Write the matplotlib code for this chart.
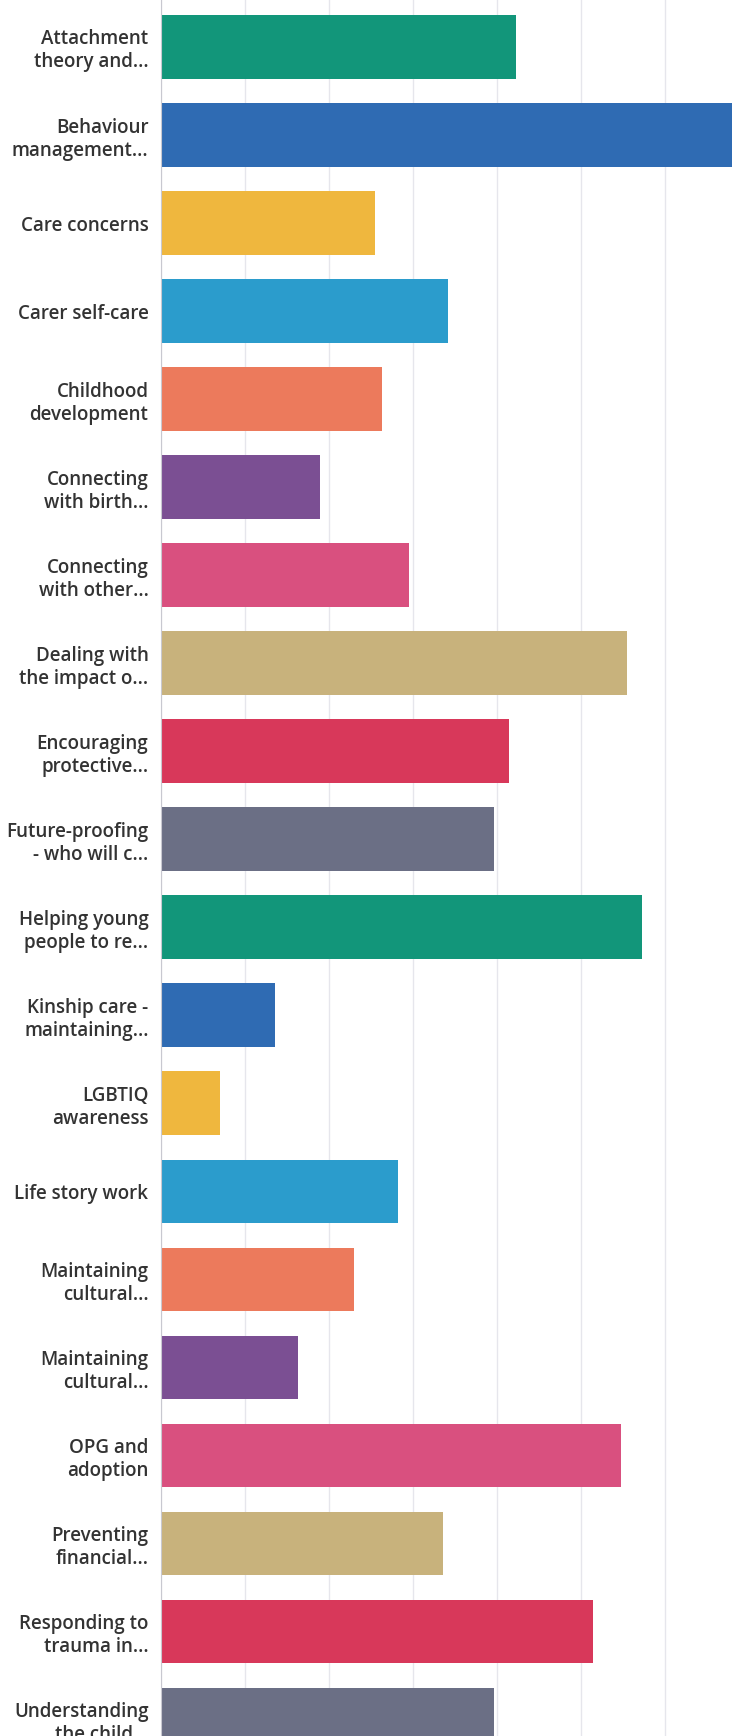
import matplotlib.pyplot as plt
from matplotlib.ticker import MultipleLocator

labels = ["Attachment\ntheory and...", "Behaviour\nmanagement...", "Care concerns",
          "Carer self-care", "Childhood\ndevelopment", "Connecting\nwith birth...",
          "Connecting\nwith other...", "Dealing with\nthe impact o...", "Encouraging\nprotective...",
          "Future-proofing\n- who will c...", "Helping young\npeople to re...",
          "Kinship care -\nmaintaining...", "LGBTIQ\nawareness", "Life story work",
          "Maintaining\ncultural...", "Maintaining\ncultural...", "OPG and\nadoption",
          "Preventing\nfinancial...", "Responding to\ntrauma in...", "Understanding\nthe child..."]
values = [42.2, 68.0, 25.5, 34.2, 26.3, 18.9, 29.5, 55.4, 41.4, 39.6,
          57.2, 13.6, 7.0, 28.2, 23.0, 16.3, 54.7, 33.6, 51.4, 39.6]
palette = ["#12967a", "#2f6bb3", "#efb73e", "#2b9ccc", "#ec7a5c",
           "#7b4f93", "#d9507f", "#c8b27c", "#d8385a", "#6b6f85"]
colors = [palette[i % len(palette)] for i in range(len(values))]

fig = plt.figure(figsize=(7.35, 17.36), dpi=100)
ax = fig.add_axes([161 / 735, 0, 1 - 161 / 735, 1])

ax.barh(range(len(values)), values, height=0.72, color=colors, zorder=2)
ax.set_ylim(19.19, -0.534)
ax.set_xlim(0, 68.3)
ax.xaxis.set_major_locator(MultipleLocator(10))
ax.grid(axis="x", color="#e6e6ec", linewidth=1, zorder=0)
ax.set_xticklabels([])
ax.tick_params(axis="x", length=0)
ax.tick_params(axis="y", length=0, pad=9)
ax.set_yticks(range(len(values)))
ax.set_yticklabels(labels, fontsize=13.5, fontweight="semibold", family="Open Sans",
                   color="#333333", linespacing=1.2)
for lab in ax.get_yticklabels():
    lab.set_horizontalalignment("right")
    lab.set_multialignment("right")
for s in ["top", "right", "bottom"]:
    ax.spines[s].set_visible(False)
ax.spines["left"].set_color("#c8c8d0")

plt.savefig("out.png", dpi=100)
